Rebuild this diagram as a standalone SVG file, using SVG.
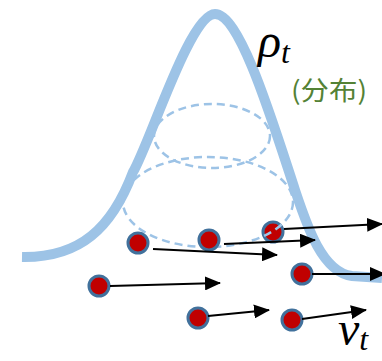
<svg xmlns="http://www.w3.org/2000/svg" width="382" height="361" viewBox="0 0 382 361">
<defs>
<style>
.curve{fill:none;stroke:#9dc3e6;stroke-width:10}
.ell{fill:none;stroke:#9dc3e6;stroke-width:2.5;stroke-dasharray:8 5}
.p{fill:#c00000;stroke:#41719c;stroke-width:3}
.a{stroke:#000;stroke-width:2.2;fill:none;marker-end:url(#ah)}
.math{font-family:"Liberation Serif",serif;font-style:italic;fill:#000}
.lbl{font-family:"Noto Sans CJK SC","Noto Sans",sans-serif;fill:#548235;font-size:26px}
</style>
<marker id="ah" markerUnits="userSpaceOnUse" viewBox="0 0 16 14" markerWidth="16" markerHeight="14" refX="15" refY="7" orient="auto">
<path d="M0,0 L16,7 L0,14 Z" fill="#000"/>
</marker>
</defs>
<g id="distribution">
<path class="curve" d="M22,257 C80,258 112,228 133,172 C150,143 190,14 215,14 C240,14 272,120 295,190 C307,226 322,272 352,276 L382,278"/>
</g>
<g id="particle3"><circle class="p" cx="273" cy="232" r="10"/></g>
<g id="slices">
<ellipse class="ell" cx="212" cy="136" rx="58" ry="32"/>
<ellipse class="ell" cx="208" cy="202" rx="85" ry="45"/>
</g>
<g id="particle1"><circle class="p" cx="138" cy="243" r="10"/></g>
<g id="particle2"><circle class="p" cx="209" cy="240" r="10"/></g>
<g id="particle4"><circle class="p" cx="99" cy="286" r="10"/></g>
<g id="particle5"><circle class="p" cx="302" cy="274" r="10"/></g>
<g id="particle6"><circle class="p" cx="198" cy="318" r="10"/></g>
<g id="particle7"><circle class="p" cx="292" cy="320" r="10"/></g>
<g id="connectors">
<line class="a" x1="153" y1="249" x2="277" y2="255"/>
<line class="a" x1="224" y1="244" x2="315" y2="240"/>
<line class="a" x1="284" y1="229" x2="382" y2="224"/>
<line class="a" x1="110" y1="286" x2="220" y2="283"/>
<line class="a" x1="312" y1="274" x2="385" y2="274"/>
<line class="a" x1="208" y1="316" x2="269" y2="310"/>
<line class="a" x1="302" y1="319" x2="366" y2="310"/>
</g>
<g id="rho-label">
<text class="math" x="258" y="57" font-size="48">ρ<tspan font-size="32" dy="6">t</tspan></text>
</g>
<g id="dist-label">
<text class="lbl" x="291" y="100" textLength="76" lengthAdjust="spacingAndGlyphs">(分布)</text>
</g>
<g id="v-label">
<text class="math" x="338" y="345" font-size="48">v<tspan font-size="32" dy="5">t</tspan></text>
</g>
</svg>
